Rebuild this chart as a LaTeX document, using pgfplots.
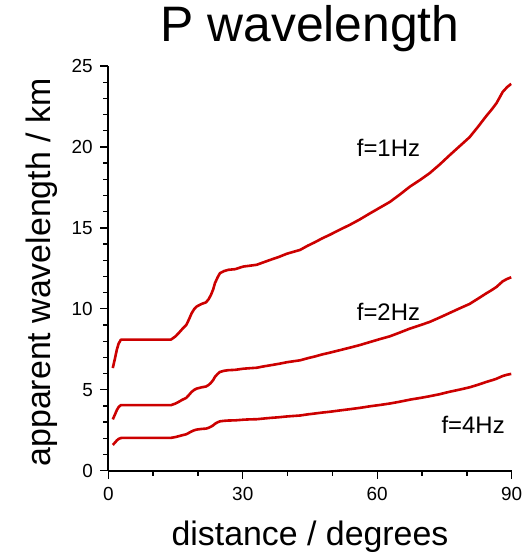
\documentclass[border=0pt]{standalone}
\usepackage{fontspec}
\setmainfont{Liberation Sans}
\usepackage{pgfplots}
\pgfplotsset{compat=1.18}
\definecolor{curvered}{RGB}{204,0,0}

\begin{document}
\begin{tikzpicture}
\useasboundingbox (-108.3bp,-85.3bp) rectangle (420.7bp,470.7bp);
\begin{axis}[
  at={(0,0)}, anchor=south west,
  width=403.4bp, height=404.7bp, scale only axis,
  xmin=0, xmax=90, ymin=0, ymax=25,
  axis lines*=left,
  axis line style={line width=1.8bp},
  xtick={0,30,60,90}, minor x tick num=2,
  ytick={0,5,10,15,20,25}, minor y tick num=4,
  tick align=outside,
  major tick length=8bp, minor tick length=5bp,
  tick style={black, line width=1.3bp},
  ticklabel style={font=\fontsize{19}{19}\selectfont},
  yticklabel style={xshift=-4bp},
  xticklabel style={yshift=-5bp},
  /pgf/number format/assume math mode=true,
  title={P wavelength},
  title style={at={(0.5,1.047)}, anchor=base, font=\fontsize{50}{50}\selectfont},
  xlabel={distance / degrees},
  xlabel style={at={(0.5,-0.1836)}, anchor=base, font=\fontsize{34}{34}\selectfont},
  ylabel={apparent wavelength / km},
  ylabel style={at={(-0.1445,0.4898)}, anchor=base, font=\fontsize{34}{34}\selectfont},
]
% f = 1 Hz
\addplot[curvered, line width=2.6bp, line join=round, mark=none] coordinates {
  (1.0,6.34) (1.5,6.95) (1.9,7.47) (2.3,7.85) (2.8,8.09) (3.5,8.1) (14.0,8.1)
  (15.0,8.3) (15.7,8.5) (16.5,8.75) (17.4,9.0) (18.0,9.35) (18.6,9.73) (19.2,10.0)
  (19.7,10.14) (20.8,10.3) (21.8,10.4) (22.4,10.6) (22.9,10.86) (23.4,11.2) (23.8,11.59)
  (24.4,11.95) (24.9,12.2) (25.8,12.33) (26.8,12.41) (28.3,12.45) (30.1,12.61) (31.5,12.66)
  (33.1,12.72) (34.6,12.87) (36.1,13.02) (38.0,13.2) (39.8,13.4) (41.3,13.52) (42.8,13.64)
  (44.5,13.9) (46.0,14.1) (47.7,14.35) (49.4,14.57) (51.6,14.88) (53.9,15.19) (56.1,15.52)
  (58.4,15.9) (60.6,16.25) (62.8,16.6) (65.0,17.05) (67.3,17.55) (69.5,17.95) (71.7,18.38)
  (74.0,18.93) (76.2,19.5) (78.4,20.05) (80.6,20.6) (82.5,21.25) (84.3,21.9) (85.5,22.3)
  (86.6,22.7) (88.0,23.4) (89.0,23.7) (89.9,23.9)
};
% f = 2 Hz
\addplot[curvered, line width=2.6bp, line join=round, mark=none] coordinates {
  (1.0,3.17) (1.5,3.48) (1.9,3.74) (2.3,3.93) (2.8,4.05) (3.5,4.05) (14.0,4.05)
  (15.0,4.15) (15.7,4.25) (16.5,4.38) (17.4,4.5) (18.0,4.68) (18.6,4.87) (19.2,5.0)
  (19.7,5.07) (20.8,5.15) (21.8,5.2) (22.4,5.3) (22.9,5.43) (23.4,5.6) (23.8,5.8)
  (24.4,5.98) (24.9,6.1) (25.8,6.17) (26.8,6.21) (28.3,6.23) (30.1,6.3) (31.5,6.33)
  (33.1,6.36) (34.6,6.44) (36.1,6.51) (38.0,6.6) (39.8,6.7) (41.3,6.76) (42.8,6.82)
  (44.5,6.95) (46.0,7.05) (47.7,7.18) (49.4,7.29) (51.6,7.44) (53.9,7.6) (56.1,7.76)
  (58.4,7.95) (60.6,8.13) (62.8,8.3) (65.0,8.53) (67.3,8.78) (69.5,8.98) (71.7,9.19)
  (74.0,9.47) (76.2,9.75) (78.4,10.03) (80.6,10.3) (82.5,10.63) (84.3,10.95) (85.5,11.15)
  (86.6,11.35) (88.0,11.7) (89.0,11.85) (89.9,11.95)
};
% f = 4 Hz
\addplot[curvered, line width=2.6bp, line join=round, mark=none] coordinates {
  (1.0,1.59) (1.5,1.74) (1.9,1.87) (2.3,1.96) (2.8,2.02) (3.5,2.03) (14.0,2.03)
  (15.0,2.08) (15.7,2.13) (16.5,2.19) (17.4,2.25) (18.0,2.34) (18.6,2.43) (19.2,2.5)
  (19.7,2.54) (20.8,2.58) (21.8,2.6) (22.4,2.65) (22.9,2.72) (23.4,2.8) (23.8,2.9)
  (24.4,2.99) (24.9,3.05) (25.8,3.08) (26.8,3.1) (28.3,3.11) (30.1,3.15) (31.5,3.17)
  (33.1,3.18) (34.6,3.22) (36.1,3.26) (38.0,3.3) (39.8,3.35) (41.3,3.38) (42.8,3.41)
  (44.5,3.48) (46.0,3.53) (47.7,3.59) (49.4,3.64) (51.6,3.72) (53.9,3.8) (56.1,3.88)
  (58.4,3.98) (60.6,4.06) (62.8,4.15) (65.0,4.26) (67.3,4.39) (69.5,4.49) (71.7,4.6)
  (74.0,4.73) (76.2,4.88) (78.4,5.01) (80.6,5.15) (82.5,5.31) (84.3,5.48) (85.5,5.58)
  (86.6,5.68) (88.0,5.85) (89.0,5.93) (89.9,5.98)
};
\node[font=\fontsize{24}{24}\selectfont] at (axis cs:62.5,19.94) {f=1Hz};
\node[font=\fontsize{24}{24}\selectfont] at (axis cs:62.5,9.83) {f=2Hz};
\node[font=\fontsize{24}{24}\selectfont] at (axis cs:81.4,2.84) {f=4Hz};
\end{axis}
\end{tikzpicture}
\end{document}
